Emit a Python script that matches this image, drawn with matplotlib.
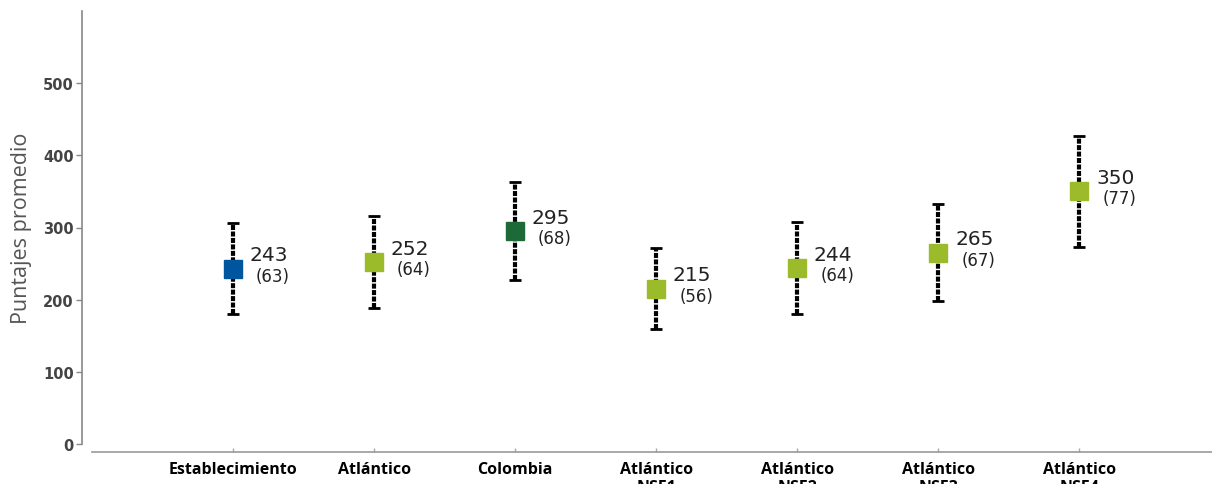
import matplotlib
matplotlib.use("Agg")
import matplotlib.pyplot as plt

categories = ["Establecimiento", "Atlántico", "Colombia", "Atlántico\nNSE1",
              "Atlántico\nNSE2", "Atlántico\nNSE3", "Atlántico\nNSE4"]
means = [243, 252, 295, 215, 244, 265, 350]
stds = [63, 64, 68, 56, 64, 67, 77]
colors = ["#00559f", "#9cbb2b", "#1d6a38", "#9cbb2b", "#9cbb2b", "#9cbb2b", "#9cbb2b"]
yticks = [0, 100, 200, 300, 400, 500]

W, H = 1212, 485
fig = plt.figure(figsize=(W / 100, H / 100), dpi=100)
ax = fig.add_axes([92 / W, 40 / H, 1120 / W, 433 / H])

x = list(range(len(categories)))
for i in x:
    eb = ax.errorbar(i, means[i], yerr=stds[i], fmt="none", ecolor="black",
                     elinewidth=3.0, capsize=4, capthick=2, zorder=2)
    for lc in eb[2]:
        lc.set_linestyle((0, (1.2, 0.35)))
    ax.plot(i, means[i], marker="s", markersize=13.5, color=colors[i],
            linestyle="none", zorder=3)
    ax.annotate(str(means[i]), (i, means[i]), xytext=(12, 10),
                textcoords="offset points", fontsize=14.5, color="#222222",
                ha="left", va="center")
    ax.annotate("(%d)" % stds[i], (i, means[i]), xytext=(16.5, -5),
                textcoords="offset points", fontsize=12, color="#222222",
                ha="left", va="center")

ax.set_xlim(-1, 6.94)
ax.set_ylim(0, 600)
ax.tick_params(axis="y", length=4, width=1, color="#888888", pad=2,
               labelcolor="#444444", labelsize=10.5)
ax.tick_params(axis="x", length=3, width=1, color="#aaaaaa", pad=6,
               direction="in", labelcolor="black", labelsize=11.5)
ax.set_yticks(yticks)
ax.set_yticklabels([str(t) for t in yticks])
ax.set_xticks(x)
ax.set_xticklabels(categories, linespacing=1.0)
ax.set_ylabel("Puntajes promedio", family="Open Sans", fontsize=15.5,
              color="#555555", labelpad=8)

for s in ["top", "right"]:
    ax.spines[s].set_visible(False)
ax.spines["left"].set_position(("outward", 7))
ax.spines["bottom"].set_position(("outward", 6))
ax.spines["left"].set_color("#888888")
ax.spines["bottom"].set_color("#999999")
ax.spines["left"].set_linewidth(1.2)
ax.spines["bottom"].set_linewidth(1.2)

fig.canvas.draw()
for lbl in ax.get_xticklabels():
    lbl.set_family("Open Sans")
    lbl.set_weight("bold")
for lbl in ax.get_yticklabels():
    lbl.set_family("DejaVu Sans")
    lbl.set_weight("bold")

fig.savefig("out.png", dpi=100)
